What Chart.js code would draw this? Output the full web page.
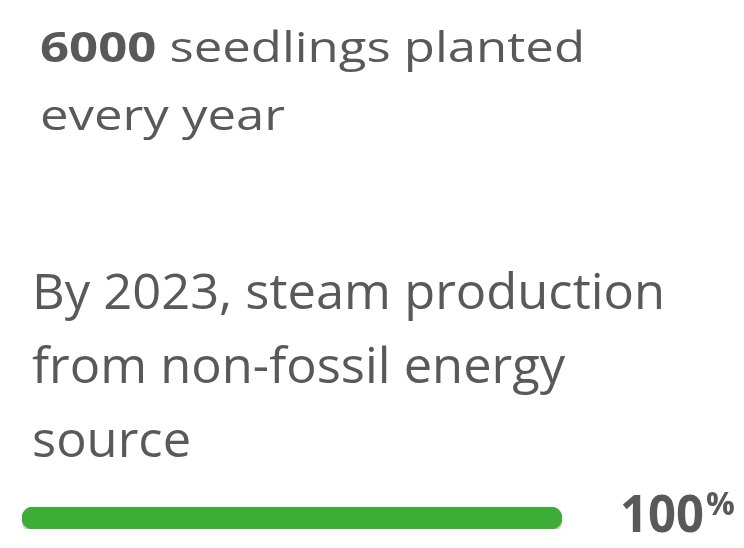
<!DOCTYPE html>
<html>
<head>
<meta charset="utf-8">
<script src="https://cdn.jsdelivr.net/npm/chart.js@4/dist/chart.umd.min.js"></script>
<style>
  html, body { margin: 0; padding: 0; background: #ffffff; }
  #wrap { width: 744px; height: 548px; position: relative; }
</style>
</head>
<body>
<div id="wrap"><canvas id="progressChart" width="744" height="548"></canvas></div>
<script>
// Data
const categories = ['non-fossil steam'];
const progressValues = [100];
const progressMax = 100;
const headlineBold = '6000';
const headlineLines = [' seedlings planted', 'every year'];
const goalLines = ['By 2023, steam production', 'from non-fossil energy', 'source'];

const TEXT_COLOR = '#595959';
const BAR_COLOR = '#3dae35';
const FONT = '"Open Sans", "Noto Sans", sans-serif';

// draws the text blocks and the value label
const textPlugin = {
  id: 'infoText',
  beforeDatasetsDraw(chart) {
    const ctx = chart.ctx;
    ctx.save();
    ctx.fillStyle = TEXT_COLOR;
    ctx.textBaseline = 'alphabetic';
    ctx.textAlign = 'left';

    // headline block
    const boldFont = '700 42px ' + FONT;
    const regFont = '400 42px ' + FONT;
    ctx.font = boldFont;
    const wBold = ctx.measureText(headlineBold).width;
    ctx.font = regFont;
    const wRest = ctx.measureText(headlineLines[0]).width;
    const s1 = 545 / (wBold + wRest);
    ctx.save();
    ctx.translate(40, 0);
    ctx.scale(s1, 1);
    ctx.font = boldFont;
    ctx.fillText(headlineBold, 0, 62);
    ctx.font = regFont;
    ctx.fillText(headlineLines[0], wBold, 62);
    ctx.fillText(headlineLines[1], 0, 130);
    ctx.restore();

    // goal block
    ctx.font = '400 50px ' + FONT;
    const s2 = 633 / ctx.measureText(goalLines[0]).width;
    ctx.save();
    ctx.translate(32, 0);
    ctx.scale(s2, 1);
    goalLines.forEach((line, i) => ctx.fillText(line, 0, 309 + i * 74));
    ctx.restore();
    ctx.restore();
  },
  afterDatasetsDraw(chart) {
    const ctx = chart.ctx;
    const meta = chart.getDatasetMeta(0);
    const bar = meta.data[0];
    ctx.save();
    ctx.fillStyle = TEXT_COLOR;
    ctx.textBaseline = 'alphabetic';
    ctx.font = '700 52px ' + FONT;
    const label = String(chart.data.datasets[0].data[0]);
    const w = ctx.measureText(label).width;
    const s = 84 / w;
    ctx.save();
    ctx.translate(620, 0);
    ctx.scale(s, 1);
    ctx.fillText(label, 0, bar.y + 14);
    ctx.restore();
    ctx.font = '700 32px ' + FONT;
    ctx.fillText('%', 706, bar.y - 3);
    ctx.restore();
  }
};

const shadowPlugin = {
  id: 'barShadow',
  beforeDatasetDraw(chart) {
    const ctx = chart.ctx;
    ctx.save();
    ctx.shadowColor = 'rgba(0,0,0,0.35)';
    ctx.shadowBlur = 3;
    ctx.shadowOffsetY = 2;
  },
  afterDatasetDraw(chart) {
    chart.ctx.restore();
  }
};

new Chart(document.getElementById('progressChart'), {
  type: 'bar',
  data: {
    labels: categories,
    datasets: [{
      data: progressValues,
      backgroundColor: BAR_COLOR,
      borderRadius: 11,
      borderSkipped: false,
      barPercentage: 1,
      categoryPercentage: 1
    }]
  },
  options: {
    indexAxis: 'y',
    responsive: false,
    animation: false,
    layout: { padding: { left: 22, right: 182, top: 507, bottom: 19 } },
    scales: {
      x: { display: false, min: 0, max: progressMax },
      y: { display: false }
    },
    plugins: {
      legend: { display: false },
      tooltip: { enabled: false }
    }
  },
  plugins: [textPlugin, shadowPlugin]
});
</script>
</body>
</html>
